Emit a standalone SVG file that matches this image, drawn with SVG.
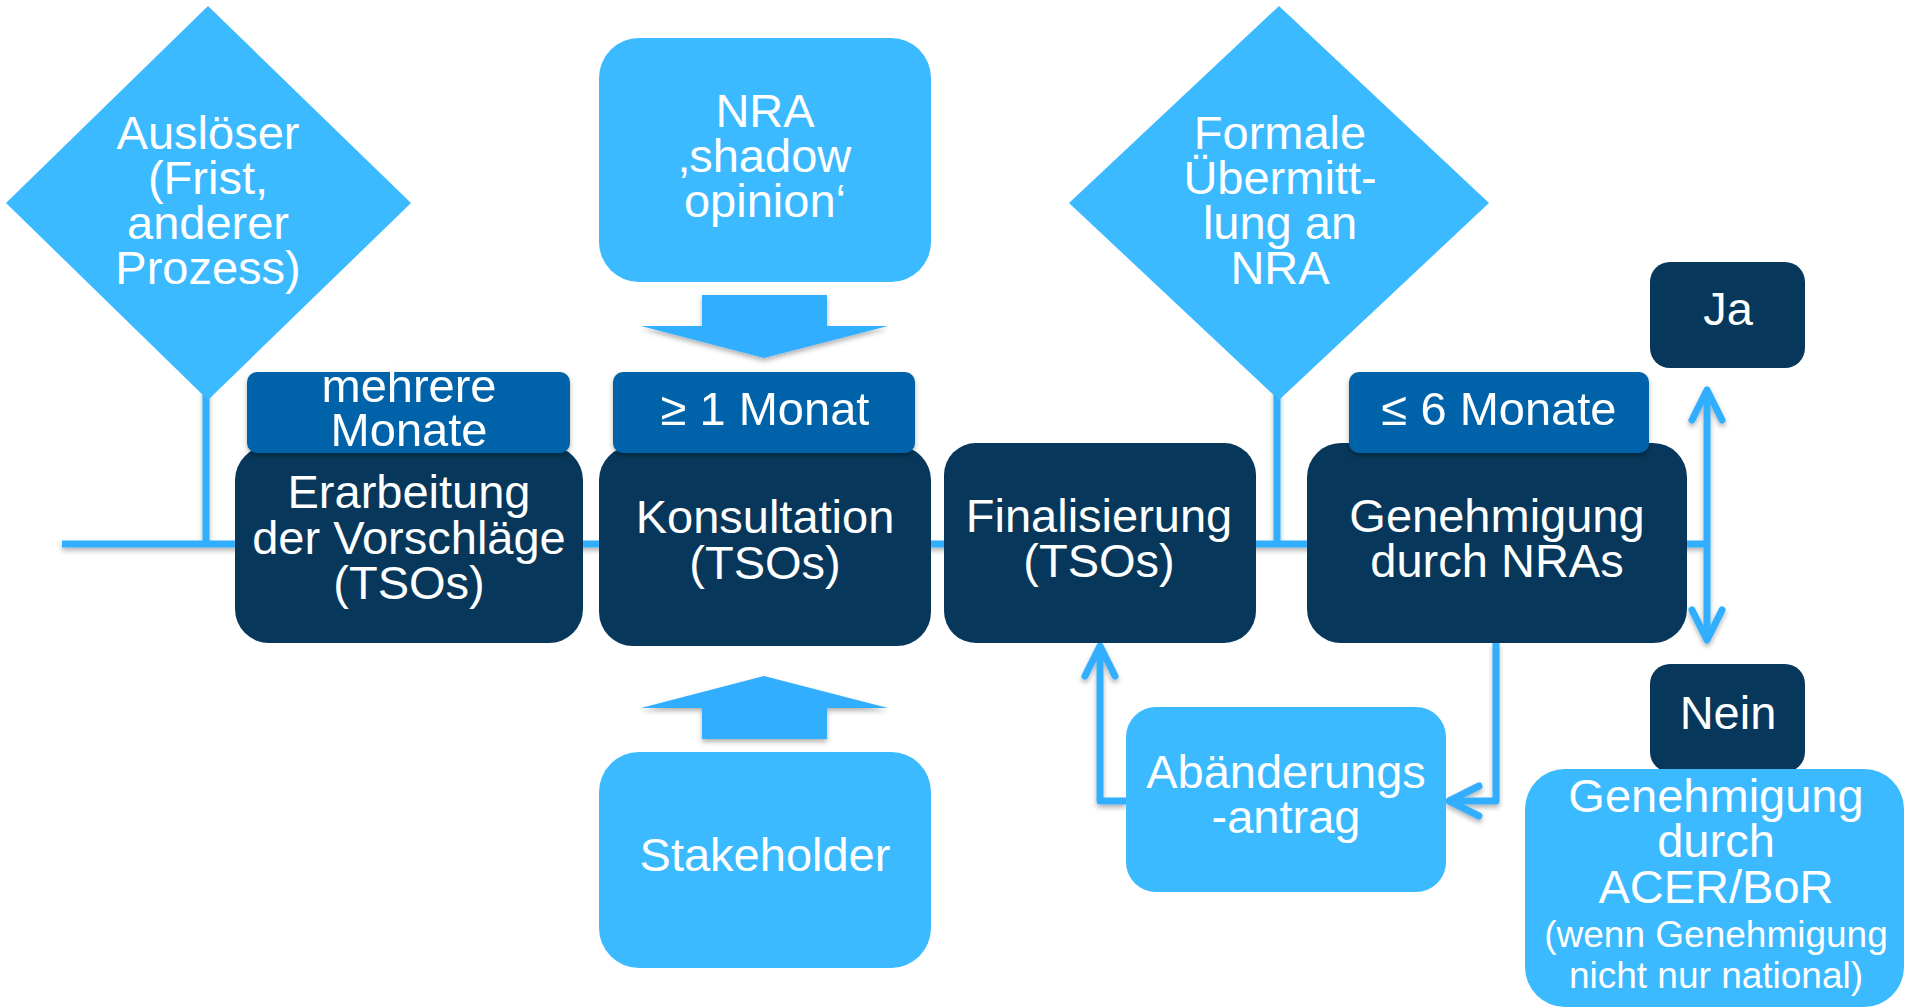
<svg xmlns="http://www.w3.org/2000/svg" width="1905" height="1008" viewBox="0 0 1905 1008">
<defs>
<style>
.t{font-family:"Liberation Sans",Arial,sans-serif;font-size:47px;fill:#fff;text-anchor:middle}
.s{font-size:37px}
.light{fill:#3BBAFF}
.dark{fill:#07385B}
.lab{fill:#0064AA}
.ln{fill:none;stroke:#33AEFF;stroke-width:7;stroke-linejoin:round}
.blk{fill:#33AEFF}
</style>
<filter id="sh" x="-5%" y="-5%" width="110%" height="115%">
<feDropShadow dx="0" dy="3" stdDeviation="2.5" flood-color="#000" flood-opacity="0.3"/>
</filter>
<marker id="ah" markerUnits="userSpaceOnUse" markerWidth="60" markerHeight="60" viewBox="-40 -30 60 60" refX="0" refY="0" orient="auto-start-reverse">
<path d="M-30,-15 L0,0 L-30,15" fill="none" stroke="#33AEFF" stroke-width="7" stroke-linecap="round" stroke-linejoin="round"/>
</marker>
</defs>
<rect width="1905" height="1008" fill="#fff"/>

<g id="connectors" filter="url(#sh)">
<path class="ln" d="M62,544 H1707"/>
<path class="ln" d="M206,390 V544"/>
<path class="ln" d="M1277,390 V544"/>
<path class="ln" d="M1707,390 V640" marker-start="url(#ah)" marker-end="url(#ah)"/>
<path class="ln" d="M1496,643 V801 H1449" marker-end="url(#ah)"/>
<path class="ln" d="M1126,801 H1100 V646" marker-end="url(#ah)"/>
<path class="blk" d="M702,295 H827 V326 H888 L764,358 L641,326 H702 Z"/>
<path class="blk" d="M764,676 L888,708 H827 V739 H702 V708 H641 Z"/>
</g>

<g id="ausloeser">
<polygon class="light" points="208,6 411,203 208,400 6,203"/>
<text class="t" x="208" y="149">Auslöser</text>
<text class="t" x="208" y="194">(Frist,</text>
<text class="t" x="208" y="239">anderer</text>
<text class="t" x="208" y="284">Prozess)</text>
</g>

<g id="formale">
<polygon class="light" points="1279,6 1489,203 1279,400 1069,203"/>
<text class="t" x="1280" y="149">Formale</text>
<text class="t" x="1280" y="194">Übermitt-</text>
<text class="t" x="1280" y="239">lung an</text>
<text class="t" x="1280" y="284">NRA</text>
</g>

<g id="nra-shadow">
<rect class="light" x="599" y="38" width="332" height="244" rx="40"/>
<text class="t" x="765" y="127">NRA</text>
<text class="t" x="765" y="172">‚shadow</text>
<text class="t" x="765" y="217">opinion‘</text>
</g>

<g id="erarbeitung">
<rect class="dark" x="235" y="446" width="348" height="197" rx="34"/>
<text class="t" x="409" y="508">Erarbeitung</text>
<text class="t" x="409" y="554">der Vorschläge</text>
<text class="t" x="409" y="599">(TSOs)</text>
</g>

<g id="konsultation">
<rect class="dark" x="599" y="446" width="332" height="200" rx="34"/>
<text class="t" x="765" y="533">Konsultation</text>
<text class="t" x="765" y="579">(TSOs)</text>
</g>

<g id="finalisierung">
<rect class="dark" x="944" y="443" width="312" height="200" rx="32"/>
<text class="t" x="1099" y="532">Finalisierung</text>
<text class="t" x="1099" y="577">(TSOs)</text>
</g>

<g id="genehmigung-nra">
<rect class="dark" x="1307" y="443" width="380" height="200" rx="34"/>
<text class="t" x="1497" y="532">Genehmigung</text>
<text class="t" x="1497" y="577">durch NRAs</text>
</g>

<g id="label-mehrere" filter="url(#sh)">
<rect class="lab" x="247" y="372" width="323" height="81" rx="10"/>
<text class="t" x="409" y="402">mehrere</text>
<text class="t" x="409" y="446">Monate</text>
</g>

<g id="label-1monat" filter="url(#sh)">
<rect class="lab" x="613" y="372" width="302" height="81" rx="10"/>
<text class="t" x="765" y="425">≥ 1 Monat</text>
</g>

<g id="label-6monate" filter="url(#sh)">
<rect class="lab" x="1349" y="372" width="300" height="81" rx="10"/>
<text class="t" x="1499" y="425">≤ 6 Monate</text>
</g>

<g id="ja">
<rect class="dark" x="1650" y="262" width="155" height="106" rx="20"/>
<text class="t" x="1728" y="325">Ja</text>
</g>

<g id="stakeholder">
<rect class="light" x="599" y="752" width="332" height="216" rx="40"/>
<text class="t" x="765" y="871">Stakeholder</text>
</g>

<g id="abaenderung">
<rect class="light" x="1126" y="707" width="320" height="185" rx="30"/>
<text class="t" x="1286" y="788">Abänderungs</text>
<text class="t" x="1286" y="833">-antrag</text>
</g>

<g id="nein">
<rect class="dark" x="1650" y="664" width="155" height="108" rx="20"/>
<text class="t" x="1728" y="729">Nein</text>
</g>

<g id="acer">
<rect class="light" x="1525" y="769" width="379" height="238" rx="40"/>
<text class="t" x="1716" y="812">Genehmigung</text>
<text class="t" x="1716" y="857">durch</text>
<text class="t" x="1716" y="903">ACER/BoR</text>
<text class="t s" x="1716" y="947">(wenn Genehmigung</text>
<text class="t s" x="1716" y="988">nicht nur national)</text>
</g>
</svg>
